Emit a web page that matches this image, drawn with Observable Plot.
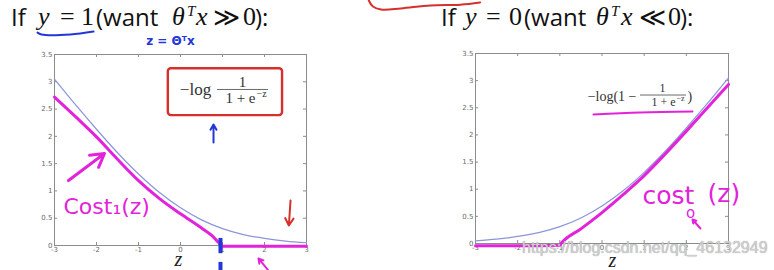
<!DOCTYPE html>
<html><head><meta charset="utf-8">
<script src="https://cdn.jsdelivr.net/npm/d3@7"></script>
<script src="https://cdn.jsdelivr.net/npm/@observablehq/plot@0.6"></script>
<style>
html,body{margin:0;padding:0;background:#fff;}
#root{position:relative;width:774px;height:270px;overflow:hidden;background:#fff;}
.panel{position:absolute;top:0;}
.panel svg{overflow:visible;background:none;}
.tp{position:absolute;top:0;line-height:normal;white-space:nowrap;color:#111;z-index:5;}
.s{font-family:"Open Sans","DejaVu Sans",sans-serif;font-size:24px;top:0;}
.m{font-family:"Liberation Serif",serif;font-size:26px;top:2px;}
.i{font-style:italic;}
.sup{font-size:15px;top:3px;}
.wm{position:absolute;left:522px;top:240px;font-family:"Liberation Sans",sans-serif;font-size:16px;line-height:16px;color:#cfcfcf;white-space:nowrap;z-index:6;text-shadow:0 0 1px #999;}
</style></head>
<body><div id="root">
<div id="left" class="panel" style="left:0"></div>
<div id="right" class="panel" style="left:387px"></div>
<div class="wm">https://blog.csdn.net/qq_46132949</div>
</div>
<script>
// ---- data ----
const zGrid = [-3, -2.5, -2, -1.5, -1, -0.5, 0, 0.5, 1, 1.5, 2, 2.5, 3];
const logCost1 = [3.05, 2.58, 2.13, 1.70, 1.31, 0.97, 0.69, 0.47, 0.31, 0.20, 0.13, 0.08, 0.05];
const logCost0 = [0.05, 0.08, 0.13, 0.20, 0.31, 0.47, 0.69, 0.97, 1.31, 1.70, 2.13, 2.58, 3.05];
const cost1Z = [-3, -2.5, -2, -1.5, -1, -0.5, 0, 0.5, 0.75, 0.9, 1, 2, 3];
const cost1V = [2.72, 2.36, 1.99, 1.58, 1.19, 0.86, 0.58, 0.32, 0.18, 0.06, -0.015, -0.015, -0.015];
const cost0Z = [-3, -2, -1, -0.97, -0.5, 0, 0.5, 1, 1.5, 2, 2.5, 3];
const cost0V = [-0.04, -0.04, -0.03, 0, 0.27, 0.57, 0.90, 1.25, 1.65, 2.07, 2.50, 2.93];
const xTicks = [-3, -2, -1, 0, 1, 2, 3];
const yTicks = [0, 0.5, 1, 1.5, 2, 2.5, 3, 3.5];

// titles: text pieces (class, text)
const titleLeft = [["s", "If"], ["m i", "y"], ["m", "="], ["m", "1"], ["s", "(want"], ["m i", "θ"], ["m i sup", "T"], ["m i", "x"], ["m", "≫"], ["m", "0"], ["s", "):"]];
const titleRight = [["s", "If"], ["m i", "y"], ["m", "="], ["m", "0"], ["s", "(want"], ["m i", "θ"], ["m i sup", "T"], ["m i", "x"], ["m", "≪"], ["m", "0"], ["s", "):"]];
const titleLeftX = [11, 38, 60, 81, 96, 172, 187, 196, 213, 243, 255];
const titleRightX = [441, 465, 486, 509, 524, 596, 611, 621, 639, 668, 680];

// annotations (data coordinates)
const boxL = [{x1: -0.29, x2: 2.43, y1: 2.38, y2: 3.24}];
const formulaL = [
  {x: 0.357, y: 2.86, t: "−log", s: 17, a: "middle"},
  {x: 1.476, y: 2.99, t: "1", s: 15, a: "middle"},
  {x: 1.786, y: 2.694, t: "1 + e", s: 15, a: "end"},
  {x: 1.81, y: 2.785, t: "−z", s: 10, a: "start"}
];
const barL = [{x1: 0.88, x2: 2.095, y: 2.859}];
const blueArrowL = [{x1: 0.786, y1: 1.887, x2: 0.786, y2: 2.217}];
const blueNoteL = [{x: -0.24, y: 3.74, t: "z = Θᵀx"}];
const underlineL = [{x: -3.405, y: 3.90}, {x: -3.31, y: 3.865}, {x: -2.62, y: 3.865}, {x: -2.07, y: 3.92}];
const pinkArrowL = [{x1: -2.667, y1: 1.19, x2: -1.81, y2: 1.686}];
const costLabelL = [{x: -2.786, y: 0.70, t: "Cost₁(z)"}];
const redArrowL = [{x1: 2.62, y1: 0.824, x2: 2.58, y2: 0.366}];
const blueDashL = [{x: 0.952, y1: 0.13, y2: -0.15}, {x: 0.952, y1: -0.31, y2: -0.47}];
const pinkSmallArrowL = [{x1: 2.095, y1: -0.46, x2: 1.857, y2: -0.238}];
const zLabelL = [{x: -0.048, y: -0.25}];

const formulaR = [
  {x: 0.818, y: 2.708, t: "−log(1 −", s: 14, a: "end"},
  {x: 1.434, y: 2.855, t: "1", s: 12, a: "middle"},
  {x: 1.743, y: 2.597, t: "1 + e", s: 12, a: "end"},
  {x: 1.766, y: 2.671, t: "−z", s: 8, a: "start"},
  {x: 2.027, y: 2.708, t: ")", s: 14, a: "start"}
];
const barR = [{x1: 0.913, x2: 2.003, y: 2.735}];
const underlineR = [{x: -0.202, y: 2.376}, {x: 0.913, y: 2.413}, {x: 2.146, y: 2.431}];
const costLabelR = [
  {x: 0.96, y: 0.875, t: "cost", s: 25, a: "start"},
  {x: 2.502, y: 0.921, t: "(z)", s: 25, a: "start"},
  {x: 2.10, y: 0.553, t: "o", s: 15, a: "middle"}
];
const pinkSmallArrowR = [{x1: 2.335, y1: 0.276, x2: 2.146, y2: 0.442}];
const zLabelR = [{x: 0.249, y: -0.31}];
const redTopR = [{x: -5.53, y: 4.476}, {x: -5.44, y: 4.37}, {x: -5.24, y: 4.31}, {x: -4.77, y: 4.33}, {x: -4.07, y: 4.385}, {x: -3.36, y: 4.40}, {x: -2.89, y: 4.44}];

const BLUE = "#8b95d8", PINK = "#e223da", RED = "#d6302c", INK = "#2436d8";
const SERIF = "Liberation Serif", HAND = "DejaVu Sans";

function addTitle(parts, xs) {
  const root = document.getElementById("root");
  parts.forEach(([cls, t], i) => {
    const el = document.createElement("div");
    el.className = "tp " + cls;
    el.style.left = xs[i] + "px";
    el.textContent = t;
    root.append(el);
  });
}
addTitle(titleLeft, titleLeftX);
addTitle(titleRight, titleRightX);

function base(fh, fw) {
  return [
    Plot.frame({stroke: "#8c8c8c", strokeWidth: 1}),
    Plot.tickX(xTicks, {x: d => d, insetTop: fh - 3, stroke: "#8c8c8c"}),
    Plot.tickX(xTicks, {x: d => d, insetBottom: fh - 3, stroke: "#8c8c8c"}),
    Plot.tickY(yTicks, {y: d => d, insetRight: fw - 3, stroke: "#8c8c8c"}),
    Plot.tickY(yTicks, {y: d => d, insetLeft: fw - 3, stroke: "#8c8c8c"}),
    Plot.axisX({ticks: xTicks, tickSize: 0, tickPadding: 2, tickFormat: d => String(d), fontSize: 7, fill: "#6a6a6a", fontFamily: "DejaVu Sans", label: null}),
    Plot.axisY({ticks: yTicks, tickSize: 0, tickPadding: 2, tickFormat: d => String(d), fontSize: 7, fill: "#6a6a6a", fontFamily: "DejaVu Sans", label: null})
  ];
}
function texts(arr, opts) {
  return arr.map(d => Plot.text([d], {x: "x", y: "y", text: "t", fontSize: d.s, textAnchor: d.a, lineAnchor: "middle", ...opts}));
}

const left = Plot.plot({
  width: 387, height: 270,
  marginLeft: 54, marginRight: 81, marginTop: 54, marginBottom: 25,
  x: {domain: [-3, 3]}, y: {domain: [0, 3.5]},
  style: {overflow: "visible", background: "none"},
  marks: [
    ...base(191, 252),
    Plot.line(zGrid.map((z, i) => ({z, v: logCost1[i]})), {x: "z", y: "v", stroke: BLUE, strokeWidth: 1.2, curve: "monotone-x"}),
    Plot.line(cost1Z.map((z, i) => ({z, v: cost1V[i]})), {x: "z", y: "v", stroke: PINK, strokeWidth: 3, curve: "monotone-x"}),
    Plot.rect(boxL, {x1: "x1", x2: "x2", y1: "y1", y2: "y2", fill: "none", stroke: RED, strokeWidth: 2.4, rx: 3}),
    ...texts(formulaL, {fontFamily: SERIF, fill: "#333"}),
    Plot.ruleY(barL, {x1: "x1", x2: "x2", y: "y", stroke: "#444", strokeWidth: 0.8}),
    Plot.arrow(blueArrowL, {x1: "x1", y1: "y1", x2: "x2", y2: "y2", stroke: INK, strokeWidth: 2, headLength: 8}),
    Plot.text(blueNoteL, {x: "x", y: "y", text: "t", fill: INK, fontSize: 12, fontFamily: HAND, fontWeight: "bold"}),
    Plot.line(underlineL, {x: "x", y: "y", stroke: INK, strokeWidth: 2, curve: "catmull-rom"}),
    Plot.arrow(pinkArrowL, {x1: "x1", y1: "y1", x2: "x2", y2: "y2", stroke: PINK, strokeWidth: 3, headLength: 12}),
    Plot.text(costLabelL, {x: "x", y: "y", text: "t", fill: PINK, fontSize: 22, fontFamily: HAND, textAnchor: "start"}),
    Plot.arrow(redArrowL, {x1: "x1", y1: "y1", x2: "x2", y2: "y2", stroke: RED, strokeWidth: 2, headLength: 10}),
    Plot.ruleX(blueDashL, {x: "x", y1: "y1", y2: "y2", stroke: INK, strokeWidth: 4}),
    Plot.arrow(pinkSmallArrowL, {x1: "x1", y1: "y1", x2: "x2", y2: "y2", stroke: PINK, strokeWidth: 2, headLength: 8}),
    Plot.text(zLabelL, {x: "x", y: "y", text: () => "z", fontFamily: SERIF, fontStyle: "italic", fontSize: 20, fill: "#222"})
  ]
});
document.getElementById("left").append(left);

const right = Plot.plot({
  width: 387, height: 270,
  marginLeft: 88, marginRight: 46, marginTop: 53, marginBottom: 27,
  x: {domain: [-3, 3]}, y: {domain: [0, 3.5]},
  style: {overflow: "visible", background: "none"},
  marks: [
    ...base(190, 253),
    Plot.line(zGrid.map((z, i) => ({z, v: logCost0[i]})), {x: "z", y: "v", stroke: BLUE, strokeWidth: 1.2, curve: "monotone-x"}),
    Plot.line(cost0Z.map((z, i) => ({z, v: cost0V[i]})), {x: "z", y: "v", stroke: PINK, strokeWidth: 3, curve: "monotone-x"}),
    ...texts(formulaR, {fontFamily: SERIF, fill: "#333"}),
    Plot.ruleY(barR, {x1: "x1", x2: "x2", y: "y", stroke: "#444", strokeWidth: 0.8}),
    Plot.line(underlineR, {x: "x", y: "y", stroke: PINK, strokeWidth: 2, curve: "catmull-rom"}),
    ...texts(costLabelR, {fill: PINK, fontFamily: HAND}),
    Plot.arrow(pinkSmallArrowR, {x1: "x1", y1: "y1", x2: "x2", y2: "y2", stroke: PINK, strokeWidth: 2, headLength: 7}),
    Plot.text(zLabelR, {x: "x", y: "y", text: () => "z", fontFamily: SERIF, fontStyle: "italic", fontSize: 20, fill: "#222"}),
    Plot.line(redTopR, {x: "x", y: "y", stroke: RED, strokeWidth: 2, curve: "catmull-rom"})
  ]
});
document.getElementById("right").append(right);
</script>
</body></html>
